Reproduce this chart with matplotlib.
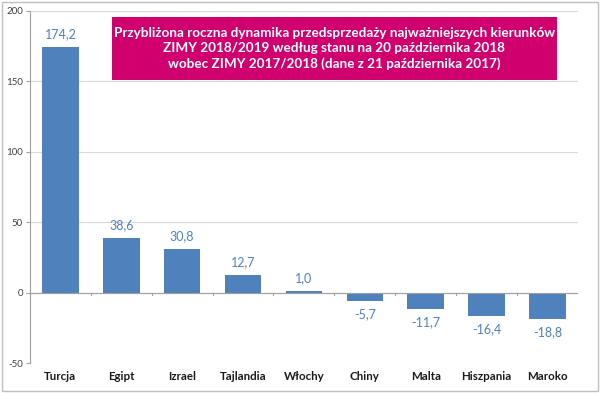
import matplotlib
matplotlib.use("Agg")
import matplotlib.pyplot as plt
from matplotlib.patches import Rectangle

categories = ["Turcja", "Egipt", "Izrael", "Tajlandia", "Włochy", "Chiny", "Malta", "Hiszpania", "Maroko"]
values = [174.2, 38.6, 30.8, 12.7, 1.0, -5.7, -11.7, -16.4, -18.8]
labels = ["174,2", "38,6", "30,8", "12,7", "1,0", "-5,7", "-11,7", "-16,4", "-18,8"]
yticks = [-50, 0, 50, 100, 150, 200]
title = ("Przybliżona roczna dynamika przedsprzedaży najważniejszych kierunków\n"
         "ZIMY 2018/2019 według stanu na 20 października 2018\n"
         "wobec ZIMY 2017/2018 (dane z 21 października 2017)")

plt.rcParams['font.family'] = ['Lato', 'DejaVu Sans']
blue = "#4F81BD"

fig = plt.figure(figsize=(6, 3.93), dpi=100)
ax = fig.add_axes([0.05, 0.0763, 0.913, 0.896])
x = list(range(len(categories)))
ax.bar(x, values, width=0.6, color=blue, zorder=3)
ax.set_xlim(-0.5, len(categories) - 0.5)
ax.set_ylim(-50, 200)
ax.set_yticks(yticks)
ax.set_yticklabels([str(t) for t in yticks], fontsize=7, color="#404040")
ax.set_xticks([])
ax.grid(axis='y', color="#D9D9D9", linewidth=0.8, zorder=0)
for s in ['top', 'right', 'bottom']:
    ax.spines[s].set_visible(False)
ax.spines['left'].set_color("#A0A0A0")
ax.tick_params(axis='y', length=3, color="#A0A0A0", pad=2)
ax.axhline(0, color="#A0A0A0", linewidth=0.8, zorder=4)
for i in x:
    ax.plot([i - 0.5, i - 0.5], [0, -1.5], color="#A0A0A0", lw=0.8, zorder=4, clip_on=False)
    ax.text(i, -56, categories[i], ha='center', va='top', fontsize=8.3, fontweight='bold', color="#1a1a1a")
    v = values[i]
    if v >= 0:
        ax.text(i, v + 5, labels[i], ha='center', va='bottom', fontsize=9, color=blue)
    else:
        ax.text(i, v - 5, labels[i], ha='center', va='top', fontsize=9, color=blue)

fig.patches.append(Rectangle((0.187, 0.796), 0.741, 0.161, transform=fig.transFigure,
                             facecolor="#D1006F", edgecolor="none", zorder=5))
fig.text(0.557, 0.8765, title, ha='center', va='center', fontsize=9.7, fontweight='bold',
         color='white', linespacing=1.3, zorder=6)
fig.patches.append(Rectangle((0.004, 0.004), 0.992, 0.99, transform=fig.transFigure,
                             facecolor="none", edgecolor="#BFBFBF", linewidth=1))
fig.savefig("out.png", dpi=100)
